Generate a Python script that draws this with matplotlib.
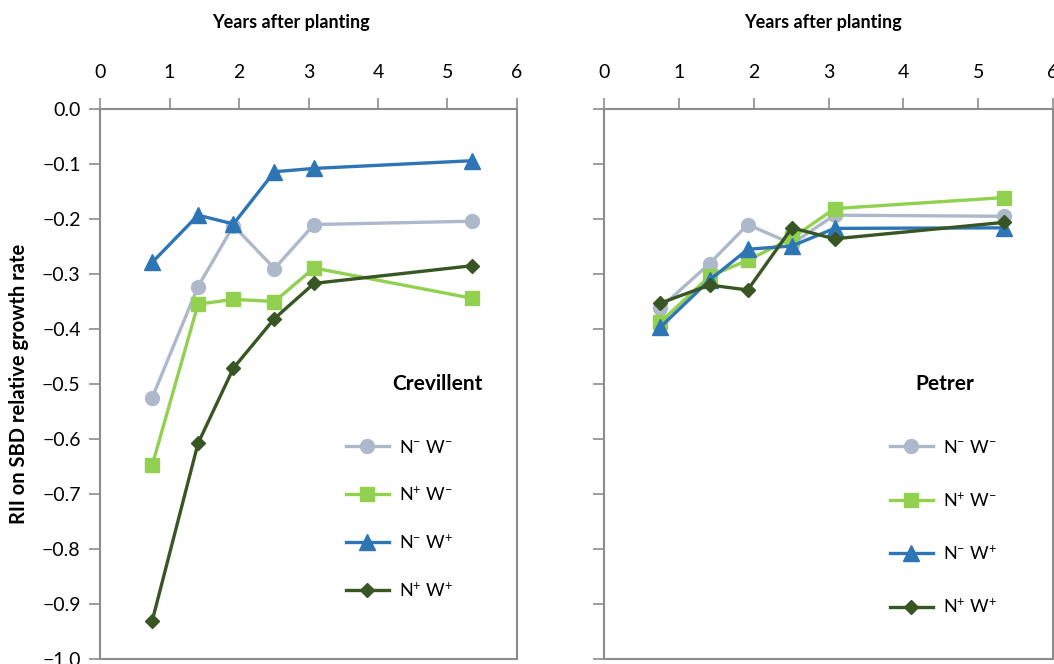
import matplotlib
matplotlib.use("Agg")
import matplotlib.pyplot as plt

plt.rcParams['font.family'] = ['Lato', 'DejaVu Sans']
plt.rcParams['mathtext.fontset'] = 'custom'
plt.rcParams['mathtext.rm'] = 'Lato'
plt.rcParams['mathtext.it'] = 'Lato:italic'
plt.rcParams['mathtext.bf'] = 'Lato:bold'

# Sampling times (years after planting), same for both sites
years = [0.75, 1.41, 1.92, 2.51, 3.08, 5.35]

# RII on SBD relative growth rate, Crevillent
crev_nm_wm = [-0.525, -0.323, -0.212, -0.290, -0.210, -0.204]
crev_np_wm = [-0.648, -0.355, -0.346, -0.350, -0.289, -0.344]
crev_nm_wp = [-0.279, -0.193, -0.209, -0.114, -0.108, -0.094]
crev_np_wp = [-0.931, -0.608, -0.471, -0.381, -0.317, -0.285]

# RII on SBD relative growth rate, Petrer
pet_nm_wm = [-0.362, -0.281, -0.210, -0.245, -0.193, -0.195]
pet_np_wm = [-0.388, -0.304, -0.275, -0.235, -0.181, -0.161]
pet_nm_wp = [-0.397, -0.311, -0.255, -0.249, -0.217, -0.216]
pet_np_wp = [-0.353, -0.320, -0.329, -0.216, -0.236, -0.206]

labels = [r"N$^{-}$ W$^{-}$", r"N$^{+}$ W$^{-}$", r"N$^{-}$ W$^{+}$", r"N$^{+}$ W$^{+}$"]
colors = ["#ADB9CA", "#92D050", "#2E75B6", "#375623"]
markers = ["o", "s", "^", "D"]
msizes = [10, 9.5, 11, 7.5]

xticks = [0, 1, 2, 3, 4, 5, 6]
yticks = [0.0, -0.1, -0.2, -0.3, -0.4, -0.5, -0.6, -0.7, -0.8, -0.9, -1.0]

fig = plt.figure(figsize=(10.54, 6.64), dpi=100)
ax1 = fig.add_axes([0.0949, 0.0075, 0.3956, 0.8283])
ax2 = fig.add_axes([0.5731, 0.0075, 0.4260, 0.8283])

spine_col = "#8C8C8C"


def draw_panel(ax, series, site, show_ylabels, title_x, site_xy, leg_xy, leg_space):
    for vals, c, m, ms, lab in zip(series, colors, markers, msizes, labels):
        ax.plot(years, vals, color=c, marker=m, markersize=ms, linewidth=2.4,
                label=lab, zorder=3)
    ax.set_xlim(0, 6)
    ax.set_ylim(-1.0, 0.0)
    ax.set_xticks(xticks)
    ax.set_yticks(yticks)
    ax.xaxis.tick_top()
    ax.set_xlabel("Years after planting", fontsize=13, fontweight="bold")
    ax.xaxis.set_label_coords(title_x, 1.172)
    ax.tick_params(axis="both", direction="out", length=8, width=1.2,
                   color=spine_col, labelsize=14, pad=6)
    ax.tick_params(axis="x", pad=12)
    if show_ylabels:
        ax.set_yticklabels(["0.0"] + ["\u2212%.1f" % abs(v) for v in yticks[1:]])
        ax.set_ylabel("RII on SBD relative growth rate", fontsize=14.5,
                      fontweight="bold", labelpad=9)
    else:
        ax.set_yticklabels([])
    for s in ax.spines.values():
        s.set_color(spine_col)
        s.set_linewidth(1.5)
    ax.text(site_xy[0], site_xy[1], site, transform=ax.transAxes,
            fontsize=15, fontweight="bold", ha="center", va="center")
    ax.legend(loc="upper left", bbox_to_anchor=leg_xy,
              frameon=False, fontsize=13, handlelength=2.4,
              labelspacing=leg_space, handletextpad=0.55)


draw_panel(ax1, [crev_nm_wm, crev_np_wm, crev_nm_wp, crev_np_wp],
           "Crevillent", True, 0.458, (0.81, 0.5), (0.55, 0.43), 1.62)
draw_panel(ax2, [pet_nm_wm, pet_np_wm, pet_nm_wp, pet_np_wp],
           "Petrer", False, 0.488, (0.76, 0.5), (0.6, 0.43), 1.93)

fig.savefig("out.png", dpi=100)
